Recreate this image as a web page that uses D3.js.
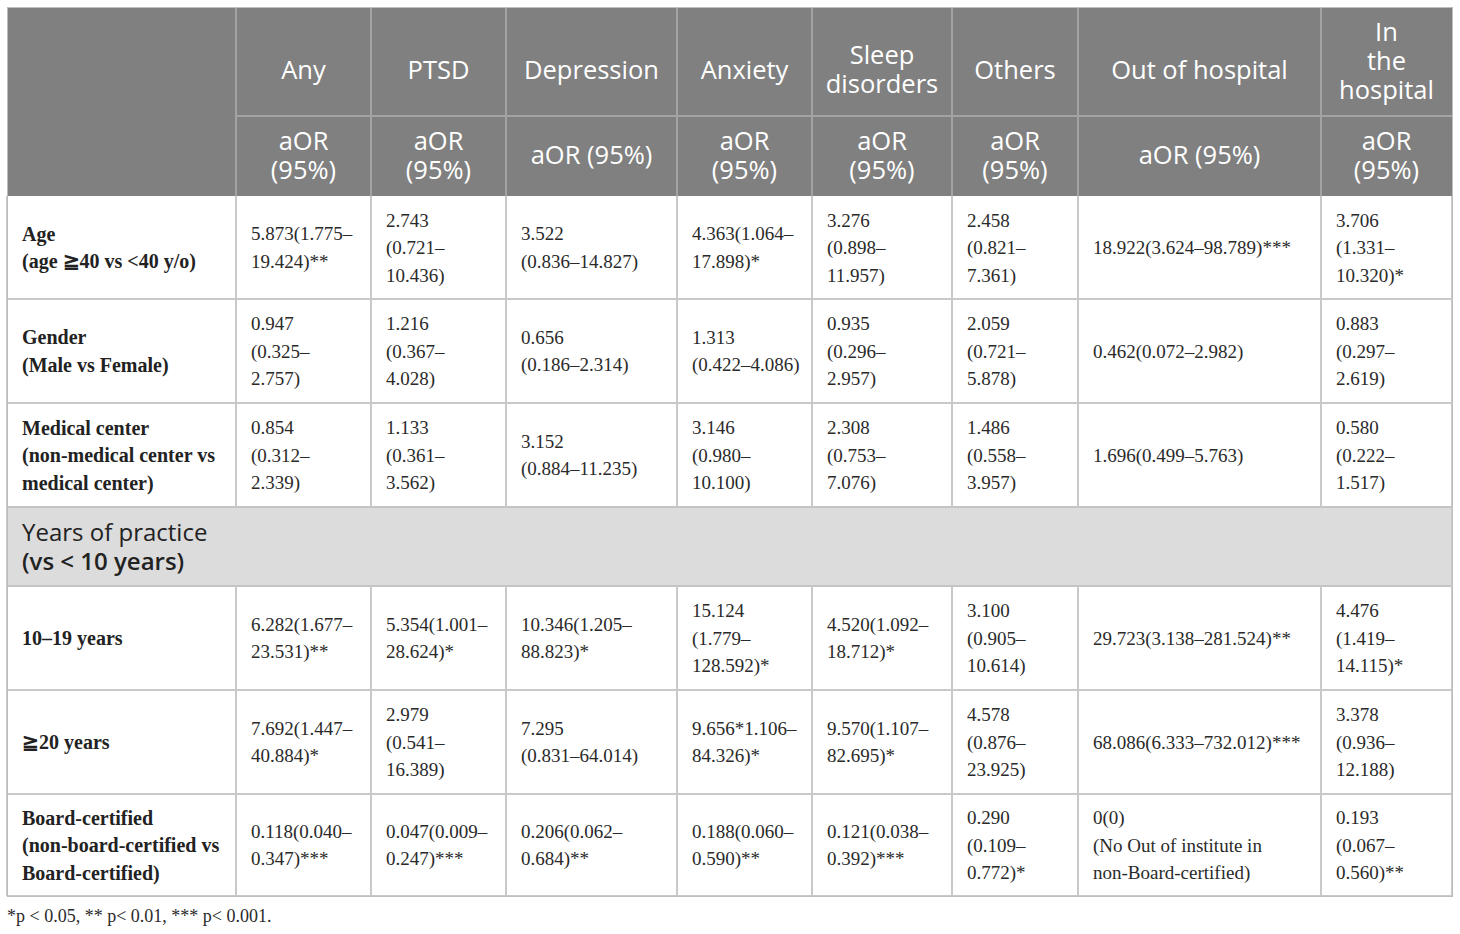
<!DOCTYPE html>
<html><head><meta charset="utf-8">
<script src="https://cdn.jsdelivr.net/npm/d3@7/dist/d3.min.js"></script>
<style>html,body{margin:0;padding:0;background:#fff;}svg{display:block;}</style>
</head><body>
<svg id="chart" width="1460" height="934"></svg>
<script>
// ---------- DATA ----------
const columns = ["Any", "PTSD", "Depression", "Anxiety", "Sleep\ndisorders", "Others", "Out of hospital", "In\nthe\nhospital"];
const subHeaders = ["aOR\n(95%)", "aOR\n(95%)", "aOR (95%)", "aOR\n(95%)", "aOR\n(95%)", "aOR\n(95%)", "aOR (95%)", "aOR\n(95%)"];
const rowLabels = [
  "Age\n(age ≧40 vs <40 y/o)",
  "Gender\n(Male vs Female)",
  "Medical center\n(non-medical center vs\nmedical center)",
  "Years of practice\n(vs < 10 years)",
  "10–19 years",
  "≧20 years",
  "Board-certified\n(non-board-certified vs\nBoard-certified)"
];
const ageValues = ["5.873(1.775–\n19.424)**", "2.743\n(0.721–\n10.436)", "3.522\n(0.836–14.827)", "4.363(1.064–\n17.898)*", "3.276\n(0.898–\n11.957)", "2.458\n(0.821–\n7.361)", "18.922(3.624–98.789)***", "3.706\n(1.331–\n10.320)*"];
const genderValues = ["0.947\n(0.325–\n2.757)", "1.216\n(0.367–\n4.028)", "0.656\n(0.186–2.314)", "1.313\n(0.422–4.086)", "0.935\n(0.296–\n2.957)", "2.059\n(0.721–\n5.878)", "0.462(0.072–2.982)", "0.883\n(0.297–\n2.619)"];
const centerValues = ["0.854\n(0.312–\n2.339)", "1.133\n(0.361–\n3.562)", "3.152\n(0.884–11.235)", "3.146\n(0.980–\n10.100)", "2.308\n(0.753–\n7.076)", "1.486\n(0.558–\n3.957)", "1.696(0.499–5.763)", "0.580\n(0.222–\n1.517)"];
const groupValues = null;
const years1019Values = ["6.282(1.677–\n23.531)**", "5.354(1.001–\n28.624)*", "10.346(1.205–\n88.823)*", "15.124\n(1.779–\n128.592)*", "4.520(1.092–\n18.712)*", "3.100\n(0.905–\n10.614)", "29.723(3.138–281.524)**", "4.476\n(1.419–\n14.115)*"];
const years20Values = ["7.692(1.447–\n40.884)*", "2.979\n(0.541–\n16.389)", "7.295\n(0.831–64.014)", "9.656*1.106–\n84.326)*", "9.570(1.107–\n82.695)*", "4.578\n(0.876–\n23.925)", "68.086(6.333–732.012)***", "3.378\n(0.936–\n12.188)"];
const boardValues = ["0.118(0.040–\n0.347)***", "0.047(0.009–\n0.247)***", "0.206(0.062–\n0.684)**", "0.188(0.060–\n0.590)**", "0.121(0.038–\n0.392)***", "0.290\n(0.109–\n0.772)*", "0(0)\n(No Out of institute in\nnon-Board-certified)", "0.193\n(0.067–\n0.560)**"];
const rowValues = [ageValues, genderValues, centerValues, groupValues, years1019Values, years20Values, boardValues];
const footnote = "*p < 0.05, ** p< 0.01, *** p< 0.001.";

// ---------- LAYOUT ----------
const colEdges = [7, 236, 371, 506, 677, 812, 952, 1078, 1321, 1452];
const rowEdges = [7, 116, 196, 299, 403, 507, 586, 690, 794, 896];
const nCols = colEdges.length - 1;
const nRows = rowEdges.length - 1;
const xs = d3.scaleOrdinal().domain(d3.range(nCols + 1)).range(colEdges);
const ys = d3.scaleOrdinal().domain(d3.range(nRows + 1)).range(rowEdges);

const svg = d3.select("#chart");
const SANS = "'Open Sans', 'Noto Sans', sans-serif";
const SERIF = "'Liberation Serif', 'DejaVu Serif', serif";
const headerFill = "#808080", groupFill = "#dcdcdc";
const headerLine = "#a3a3a3", bodyLine = "#c9c9c9";

// backgrounds
svg.append("rect").attr("x", xs(0)).attr("y", ys(0)).attr("width", xs(nCols) - xs(0)).attr("height", ys(2) - ys(0)).attr("fill", headerFill);
svg.append("rect").attr("x", xs(0)).attr("y", ys(5)).attr("width", xs(nCols) - xs(0)).attr("height", ys(6) - ys(5)).attr("fill", groupFill);

// header lines
const hl = svg.append("g").attr("stroke", headerLine).attr("stroke-width", 1.2).attr("shape-rendering", "crispEdges");
d3.range(1, nCols).forEach(i => hl.append("line").attr("x1", xs(i)).attr("x2", xs(i)).attr("y1", ys(0)).attr("y2", ys(2)));
hl.append("line").attr("x1", xs(1)).attr("x2", xs(nCols)).attr("y1", ys(1)).attr("y2", ys(1));

// body lines
const bl = svg.append("g").attr("stroke", bodyLine).attr("stroke-width", 1.5).attr("shape-rendering", "crispEdges");
d3.range(3, nRows + 1).forEach(r => bl.append("line").attr("x1", xs(0)).attr("x2", xs(nCols)).attr("y1", ys(r)).attr("y2", ys(r)));
bl.append("line").attr("x1", xs(0)).attr("x2", xs(nCols)).attr("y1", ys(5)).attr("y2", ys(5)).attr("stroke-width", 2.5).attr("stroke", "#c4c4c4");
bl.append("line").attr("x1", xs(0)).attr("x2", xs(nCols)).attr("y1", ys(6)).attr("y2", ys(6)).attr("stroke-width", 2).attr("stroke", "#c4c4c4");
[[2, 5], [6, 9]].forEach(([a, b]) => {
  d3.range(1, nCols).forEach(i => bl.append("line").attr("x1", xs(i)).attr("x2", xs(i)).attr("y1", ys(a)).attr("y2", ys(b)));
});
bl.append("line").attr("x1", xs(0)).attr("x2", xs(0)).attr("y1", ys(2)).attr("y2", ys(nRows));
bl.append("line").attr("x1", xs(nCols)).attr("x2", xs(nCols)).attr("y1", ys(2)).attr("y2", ys(nRows));
const fr = svg.append("g").attr("stroke", "#bdbdbd").attr("stroke-width", 1).attr("fill", "none").attr("shape-rendering", "crispEdges");
fr.append("rect").attr("x", xs(0)).attr("y", ys(0)).attr("width", xs(nCols) - xs(0)).attr("height", ys(nRows) - ys(0));

// text helper
function block(g, text, opts) {
  const lines = text.split("\n");
  const lh = opts.lh, n = lines.length;
  const cy = opts.cy;
  const t = g.append("text")
    .attr("font-family", opts.font).attr("font-size", opts.size)
    .attr("fill", opts.fill).attr("text-anchor", opts.anchor || "start");
  lines.forEach((ln, i) => {
    t.append("tspan").attr("x", opts.x)
      .attr("y", cy + (i - (n - 1) / 2) * lh + opts.base)
      .attr("font-weight", opts.weights ? opts.weights[i] : (opts.weight || "normal"))
      .text(ln);
  });
  return t;
}

const tg = svg.append("g");
// header row 1
columns.forEach((c, i) => {
  const n = c.split("\n").length;
  const cy = (ys(0) + ys(1)) / 2 + 8.5 - Math.max(0, n - 2) * 8.5;
  block(tg, c, {x: (xs(i + 1) + xs(i + 2)) / 2, cy: cy, lh: 29, base: 8.5, font: SANS, size: 25.5, fill: "#fff", anchor: "middle"});
});
subHeaders.forEach((c, i) => {
  block(tg, c, {x: (xs(i + 1) + xs(i + 2)) / 2, cy: (ys(1) + ys(2)) / 2 - 0.5, lh: 29, base: 8.5, font: SANS, size: 25.5, fill: "#fff", anchor: "middle"});
});

// body rows
rowLabels.forEach((lab, r) => {
  const top = ys(r + 2), bot = ys(r + 3), cy = (top + bot) / 2;
  if (rowValues[r] === null) {
    block(tg, lab, {x: xs(0) + 15, cy: cy, lh: 29, base: 8.5, font: SANS, size: 24, fill: "#222", weights: ["normal", "600"]});
    return;
  }
  block(tg, lab, {x: xs(0) + 15, cy: cy, lh: 27.5, base: 7, font: SERIF, size: 20, fill: "#222", weight: "bold"});
  rowValues[r].forEach((v, c) => {
    block(tg, v, {x: xs(c + 1) + 15, cy: cy, lh: 27.5, base: 6.5, font: SERIF, size: 19, fill: "#2a2a2a"});
  });
});

// footnote
svg.append("text").attr("x", 7).attr("y", 922).attr("font-family", SERIF).attr("font-size", 18).attr("fill", "#2a2a2a").text(footnote);
</script>
</body></html>
